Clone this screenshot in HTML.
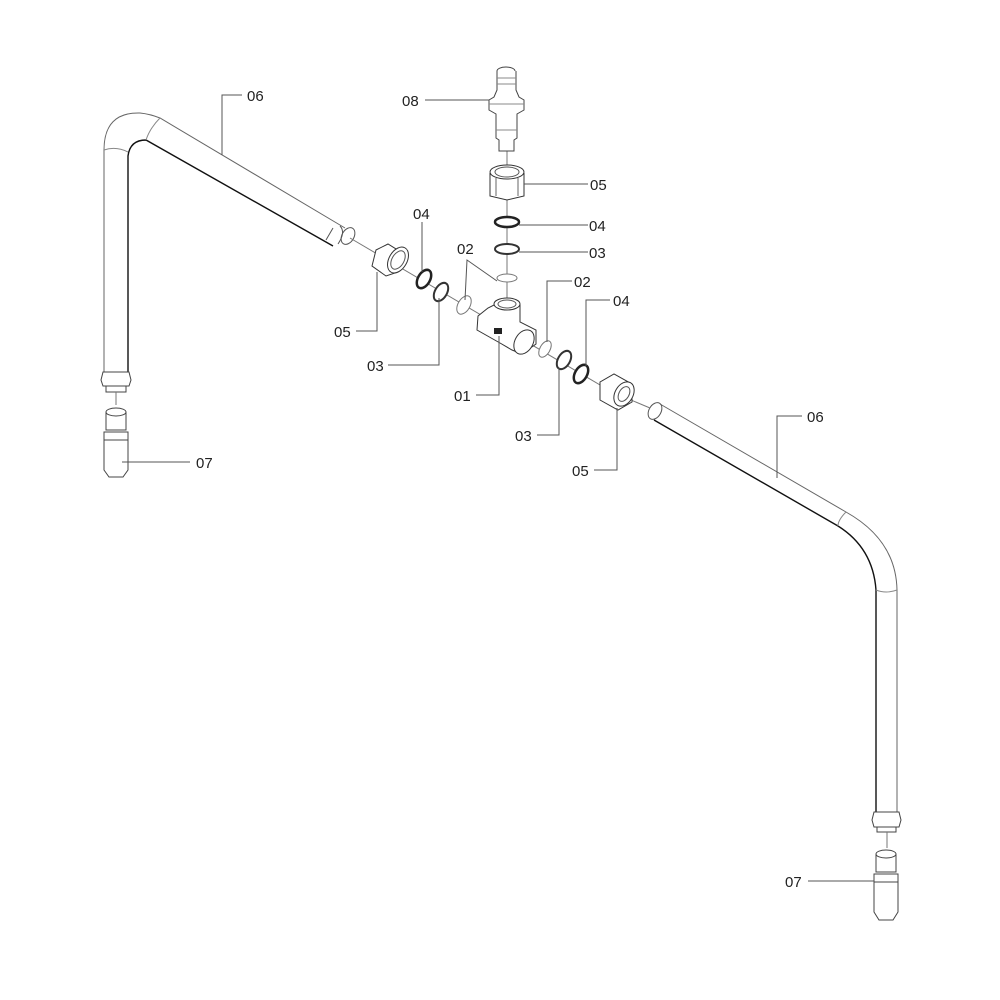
<!DOCTYPE html>
<html><head><meta charset="utf-8"><style>
html,body{margin:0;padding:0;background:#fff;}
svg{display:block}
text{font-family:"Liberation Sans",sans-serif;font-size:15px;fill:#222}
</style></head><body>
<svg width="1000" height="1000" viewBox="0 0 1000 1000" xmlns="http://www.w3.org/2000/svg">
<g fill="none" stroke="#333" stroke-width="1">
<!-- left pipe -->
<path d="M104 372 L104 150 Q104 112 140 113 Q150 114 160 118 L345 228" stroke="#666"/>
<path d="M128 372 L128 156 Q130 140 146 140 L333 246" stroke="#111" stroke-width="1.4"/>
<path d="M104 150 Q116 146 128 152" stroke="#888"/>
<path d="M160 118 Q150 128 146 140" stroke="#888"/>
<path d="M333 228 L326 240 M340 226 Q346 232 338 244" stroke="#555"/>
<ellipse cx="348" cy="236" rx="6" ry="9" transform="rotate(30 348 236)" stroke="#555"/>
<!-- left nut bottom -->
<path d="M103 372 L129 372 L131 380 L129 386 L103 386 L101 380 Z" stroke="#444"/>
<path d="M106 386 L106 392 L126 392 L126 386" stroke="#444"/>
<line x1="116" y1="392" x2="116" y2="405" stroke="#777"/>
<!-- left 07 -->
<ellipse cx="116" cy="412" rx="10" ry="4" stroke="#444"/>
<path d="M106 412 L106 430 L126 430 L126 412 M104 432 L128 432 L128 440 L104 440 Z M104 440 L104 470 L109 477 L123 477 L128 470 L128 440" stroke="#444"/>
<!-- right pipe -->
<path d="M660 404 L846 512 Q896 540 897 590 L897 812" stroke="#666"/>
<path d="M654 420 L838 526 Q873 548 876 590 L876 812" stroke="#111" stroke-width="1.4"/>
<path d="M846 512 Q838 520 838 526 M876 590 Q886 594 897 590" stroke="#888"/>
<ellipse cx="655" cy="411" rx="6" ry="9" transform="rotate(30 655 411)" stroke="#555"/>
<line x1="612" y1="392" x2="650" y2="408" stroke="#777"/>
<path d="M874 812 L899 812 L901 820 L899 827 L874 827 L872 820 Z" stroke="#444"/>
<path d="M877 827 L877 832 L896 832 L896 827" stroke="#444"/>
<line x1="887" y1="832" x2="887" y2="848" stroke="#777"/>
<ellipse cx="886" cy="854" rx="10" ry="4" stroke="#444"/>
<path d="M876 854 L876 872 L896 872 L896 854 M874 874 L898 874 L898 882 L874 882 Z M874 882 L874 912 L879 920 L893 920 L898 912 L898 882" stroke="#444"/>
<!-- axis line -->
<line x1="350" y1="238" x2="612" y2="392" stroke="#777"/>
<line x1="507" y1="150" x2="507" y2="305" stroke="#777"/>
<!-- left nut 05 -->
<path d="M376 250 L388 244 L404 254 L398 272 L386 276 L372 266 Z" stroke="#333" fill="#fff"/>
<ellipse cx="398" cy="260" rx="9" ry="14" transform="rotate(30 398 260)" stroke="#333" fill="#fff"/>
<ellipse cx="398" cy="260" rx="6" ry="10" transform="rotate(30 398 260)" stroke="#555"/>
<!-- rings left -->
<ellipse cx="424" cy="279" rx="6" ry="10" transform="rotate(30 424 279)" stroke="#222" stroke-width="2.5" fill="#fff"/>
<ellipse cx="441" cy="292" rx="6" ry="10" transform="rotate(30 441 292)" stroke="#333" stroke-width="2" fill="#fff"/>
<ellipse cx="464" cy="305" rx="6" ry="10" transform="rotate(30 464 305)" stroke="#777" fill="#fff"/>
<!-- tee -->
<path d="M488 308 L478 316 L477 330 L500 343 L512 350 L522 354 L536 344 L536 330 L520 322 L520 305 L494 305 Z" stroke="#333" fill="#fff"/>
<ellipse cx="507" cy="304" rx="13" ry="6" stroke="#333" fill="#fff"/>
<ellipse cx="507" cy="304" rx="9" ry="4" stroke="#555"/>
<ellipse cx="524" cy="342" rx="9" ry="13" transform="rotate(30 524 342)" stroke="#333" fill="#fff"/>
<rect x="494" y="328" width="8" height="6" fill="#222" stroke="none"/>
<!-- rings right -->
<ellipse cx="545" cy="349" rx="5" ry="9" transform="rotate(30 545 349)" stroke="#777" fill="#fff"/>
<ellipse cx="564" cy="360" rx="6" ry="10" transform="rotate(30 564 360)" stroke="#333" stroke-width="2" fill="#fff"/>
<ellipse cx="581" cy="374" rx="6" ry="10" transform="rotate(30 581 374)" stroke="#222" stroke-width="2.5" fill="#fff"/>
<!-- right nut 05 -->
<path d="M600 382 L614 374 L632 384 L632 402 L618 410 L600 400 Z" stroke="#333" fill="#fff"/>
<ellipse cx="624" cy="394" rx="9" ry="13" transform="rotate(30 624 394)" stroke="#333" fill="#fff"/>
<ellipse cx="624" cy="394" rx="5" ry="8" transform="rotate(30 624 394)" stroke="#555"/>
<!-- vertical stack -->
<ellipse cx="507" cy="278" rx="10" ry="4" stroke="#777" fill="#fff"/>
<ellipse cx="507" cy="249" rx="12" ry="5" stroke="#333" stroke-width="2" fill="#fff"/>
<ellipse cx="507" cy="222" rx="12" ry="5" stroke="#222" stroke-width="2.5" fill="#fff"/>
<path d="M490 173 L490 196 L507 200 L524 196 L524 173" stroke="#333" fill="#fff"/>
<ellipse cx="507" cy="172" rx="17" ry="7" stroke="#333" fill="#fff"/>
<ellipse cx="507" cy="172" rx="12" ry="5" stroke="#555"/>
<path d="M496 178 L496 196 M518 178 L518 196" stroke="#666"/>
<!-- 08 -->
<ellipse cx="506" cy="71" rx="9" ry="4" stroke="#444" fill="#fff"/>
<path d="M497 71 L497 90 L494 97 L489 100 L489 110 L496 114 L496 138 L499 140 L499 151 L514 151 L514 140 L517 138 L517 114 L524 110 L524 100 L519 97 L516 90 L516 71" stroke="#444" fill="#fff"/>
<path d="M497 78 L516 78 M497 84 L516 84 M489 104 L524 104 M496 130 L517 130" stroke="#888"/>
<!-- leaders -->
<g stroke="#555">
<polyline points="222,155 222,95 242,95"/>
<line x1="425" y1="100" x2="489" y2="100"/>
<line x1="524" y1="184" x2="588" y2="184"/>
<line x1="519" y1="225" x2="588" y2="225"/>
<line x1="519" y1="252" x2="588" y2="252"/>
<polyline points="465,300 467,260 497,281"/>
<line x1="422" y1="222" x2="422" y2="272"/>
<polyline points="356,331 377,331 377,272"/>
<polyline points="388,365 439,365 439,298"/>
<polyline points="476,395 499,395 499,336"/>
<polyline points="572,281 547,281 547,342"/>
<polyline points="610,300 586,300 586,366"/>
<polyline points="537,435 559,435 559,368"/>
<polyline points="594,470 617,470 617,408"/>
<polyline points="802,416 777,416 777,478"/>
<line x1="190" y1="462" x2="122" y2="462"/>
<line x1="808" y1="881" x2="874" y2="881"/>
</g>
</g>
<text x="247" y="101">06</text>
<text x="402" y="106">08</text>
<text x="590" y="190">05</text>
<text x="589" y="231">04</text>
<text x="589" y="258">03</text>
<text x="457" y="254">02</text>
<text x="413" y="219">04</text>
<text x="334" y="337">05</text>
<text x="367" y="371">03</text>
<text x="454" y="401">01</text>
<text x="574" y="287">02</text>
<text x="613" y="306">04</text>
<text x="515" y="441">03</text>
<text x="572" y="476">05</text>
<text x="807" y="422">06</text>
<text x="196" y="468">07</text>
<text x="785" y="887">07</text>
</svg>
</body></html>
